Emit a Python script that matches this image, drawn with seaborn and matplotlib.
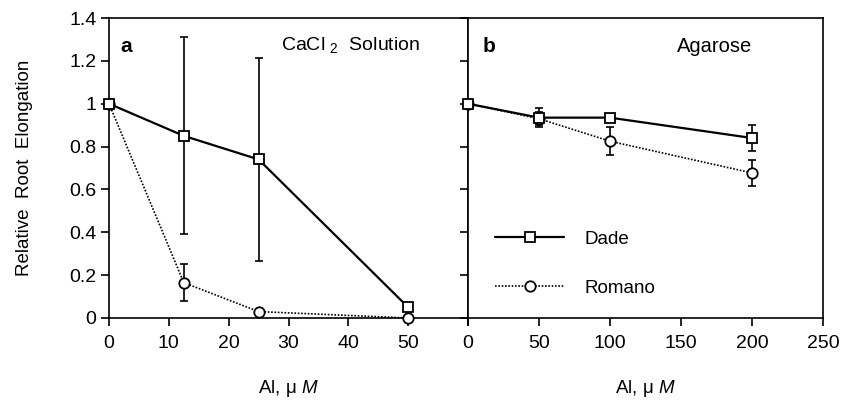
import matplotlib
matplotlib.use("Agg")
import matplotlib.pyplot as plt
import seaborn as sns
import pandas as pd

# ---------------- data ----------------
al_a = [0, 12.5, 25, 50]
dade_a = [1.0, 0.85, 0.74, 0.05]
dade_a_err = [0.0, 0.46, 0.475, 0.0]
romano_a = [1.0, 0.165, 0.03, 0.0]
romano_a_err = [0.0, 0.085, 0.0, 0.0]

al_b = [0, 50, 100, 200]
dade_b = [1.0, 0.935, 0.935, 0.84]
dade_b_err = [0.0, 0.045, 0.015, 0.06]
romano_b = [1.0, 0.93, 0.825, 0.677]
romano_b_err = [0.0, 0.03, 0.065, 0.062]

xticks_a = [0, 10, 20, 30, 40, 50, 60]
xticklabels_a = ["0", "10", "20", "30", "40", "50", ""]
xticks_b = [0, 50, 100, 150, 200, 250]
yticks = [0, 0.2, 0.4, 0.6, 0.8, 1.0, 1.2, 1.4]
yticklabels = ["0", "0.2", "0.4", "0.6", "0.8", "1", "1.2", "1.4"]
series_names = ["Dade", "Romano"]

# ---------------- style ----------------
sns.set_style("ticks")
plt.rcParams["font.family"] = ["Liberation Sans", "DejaVu Sans"]
plt.rcParams["mathtext.fontset"] = "custom"
plt.rcParams["mathtext.rm"] = "Liberation Sans"
plt.rcParams["mathtext.it"] = "Liberation Sans:italic"
for key in ["text.color", "axes.labelcolor", "xtick.color", "ytick.color",
            "xtick.labelcolor", "ytick.labelcolor", "axes.edgecolor"]:
    plt.rcParams[key] = "black"

W, H = 847, 401
fig = plt.figure(figsize=(W / 100, H / 100), dpi=100)
left, mid, right = 109, 468, 823
top, bottom = 18, 318
ax_a = fig.add_axes([left / W, 1 - bottom / H, (mid - left) / W, (bottom - top) / H])
ax_b = fig.add_axes([mid / W, 1 - bottom / H, (right - mid) / W, (bottom - top) / H])

styles = {
    "Dade": dict(marker="s", linestyle="-", linewidth=1.6, markersize=7.5, zorder=4),
    "Romano": dict(marker="o", linestyle=(0, (1, 1)), linewidth=1.2, markersize=7.5, zorder=3),
}


def draw(ax, x, series, errs):
    handles = []
    for name, y, e in zip(series_names, series, errs):
        df = pd.DataFrame({"Al": x, "RRE": y})
        n_before = len(ax.lines)
        sns.lineplot(data=df, x="Al", y="RRE", ax=ax, color="black",
                     markerfacecolor="white", markeredgecolor="black",
                     markeredgewidth=1.3, clip_on=False,
                     legend=False, **styles[name])
        handles.append(ax.lines[n_before])
        xe = [xi for xi, ei in zip(x, e) if ei > 0]
        ye = [yi for yi, ei in zip(y, e) if ei > 0]
        ee = [ei for ei in e if ei > 0]
        if xe:
            ax.errorbar(xe, ye, yerr=ee, fmt="none", ecolor="black",
                        elinewidth=1.2, capsize=3.2, capthick=1.2, zorder=2,
                        clip_on=False)
    return handles


draw(ax_a, al_a, [dade_a, romano_a], [dade_a_err, romano_a_err])
handles_b = draw(ax_b, al_b, [dade_b, romano_b], [dade_b_err, romano_b_err])

for ax in (ax_a, ax_b):
    ax.set_ylim(0, 1.4)
    ax.set_yticks(yticks)
    for s in ax.spines.values():
        s.set_visible(True)
        s.set_linewidth(1.2)
        s.set_color("black")
    ax.tick_params(axis="x", direction="out", length=6, width=1.2, labelsize=14, pad=6,
                   colors="black")
    ax.tick_params(axis="y", direction="out", length=6, width=1.2, labelsize=14, pad=3,
                   colors="black")
    ax.set_xlabel("Al, μ $\\mathit{M}$", fontsize=13.5, color="black")
    ax.xaxis.set_label_coords(0.5, -0.2)
    ax.set_ylabel("")

ax_a.set_xlim(0, 60)
ax_a.set_xticks(xticks_a)
ax_a.set_xticklabels(xticklabels_a)
ax_a.set_yticklabels(yticklabels)
ax_a.set_ylabel("Relative  Root  Elongation", fontsize=13.5, color="black")
ax_a.yaxis.set_label_coords(-0.212, 0.5)

ax_b.set_xlim(0, 250)
ax_b.set_xticks(xticks_b)
ax_b.tick_params(axis="y", labelleft=False)

ax_a.text(0.031, 0.905, "a", transform=ax_a.transAxes, fontsize=15,
          fontweight="bold", va="center", ha="left", color="black")
ax_a.text(0.48, 0.91, "CaCl $_2$  Solution", transform=ax_a.transAxes,
          fontsize=14, va="center", ha="left", color="black")
ax_b.text(0.042, 0.905, "b", transform=ax_b.transAxes, fontsize=15,
          fontweight="bold", va="center", ha="left", color="black")
ax_b.text(0.59, 0.905, "Agarose", transform=ax_b.transAxes, fontsize=14.5,
          va="center", ha="left", color="black")

leg = ax_b.legend(handles_b, series_names, loc="upper left", bbox_to_anchor=(0.076, 0.292),
                  frameon=False, handlelength=3.7, handletextpad=1.1, labelspacing=1.7,
                  borderpad=0, borderaxespad=0, fontsize=13.5, labelcolor="black")

fig.savefig("out.png", dpi=100)
